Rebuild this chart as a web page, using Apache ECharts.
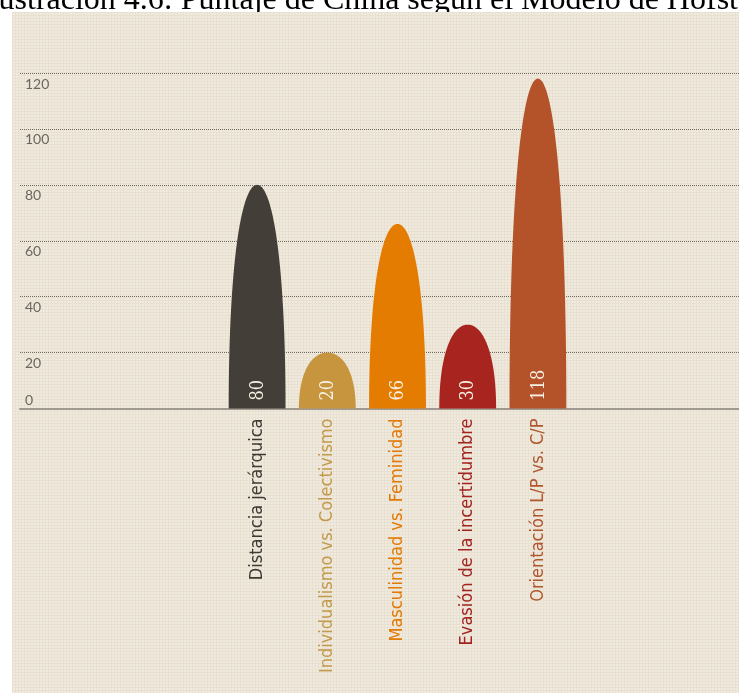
<!DOCTYPE html>
<html>
<head>
<meta charset="utf-8">
<script src="https://cdn.jsdelivr.net/npm/echarts@6/dist/echarts.min.js"></script>
<style>
  html, body { margin: 0; padding: 0; background: #fff; }
  #chart { width: 739px; height: 693px; }
</style>
</head>
<body>
<div id="chart"></div>
<script>
// Hofstede dimensions for China
const categories = [
  'Distancia jerárquica',
  'Individualismo vs. Colectivismo',
  'Masculinidad vs. Feminidad',
  'Evasión de la incertidumbre',
  'Orientación L/P vs. C/P'
];
const scores = [80, 20, 66, 30, 118];
const yTicks = { min: 0, max: 120, step: 20 };
const titleText = 'Ilustración 4.6: Puntaje de China según el Modelo de Hofstede';

// styling per dimension
const barColors = ['#433f38', '#c8953f', '#e57c02', '#a7241f', '#b4532a'];
const labelColors = ['#3d3a34', '#c39a4c', '#e27a06', '#a2241f', '#b0572f'];

// fine graph-paper texture for the panel
const tile = document.createElement('canvas');
tile.width = 3; tile.height = 3;
const g = tile.getContext('2d');
g.fillStyle = '#f1eadf';
g.fillRect(0, 0, 3, 3);
g.fillStyle = '#e8e0d1';
g.fillRect(0, 0, 3, 1);
g.fillRect(0, 0, 1, 3);

// rounded "bullet" bar: two mirrored cubic curves from the base corners to the apex
function renderBullet(params, api) {
  const idx = api.value(0);
  const val = api.value(1);
  const top = api.coord([idx, val]);
  const base = api.coord([idx, 0]);
  const xc = top[0], yt = top[1], yb = base[1];
  const hw = api.size([1, 0])[0] * 0.405;
  const H = yb - yt;
  const a = 0.65, b = 0.55, N = 48;
  const left = [];
  for (let k = 0; k <= N; k++) {
    const t = k / N, u = 1 - t;
    const X = (1 - b) * 3 * u * t * t + t * t * t;
    const Y = a * 3 * u * u * t + 3 * u * t * t + t * t * t;
    left.push([xc - hw + X * hw, yb - Y * H]);
  }
  const right = left.slice(0, -1).reverse().map(p => [2 * xc - p[0], p[1]]);
  return {
    type: 'group',
    children: [
      { type: 'polygon', shape: { points: left.concat(right) }, style: { fill: barColors[idx] } },
      {
        type: 'text', x: xc + 1, y: yb - 8, rotation: Math.PI / 2,
        style: {
          text: String(val), fill: '#f7f1e5',
          font: '18px "DejaVu Serif Condensed", "DejaVu Serif", serif',
          align: 'left', verticalAlign: 'middle'
        }
      }
    ]
  };
}

const chart = echarts.init(document.getElementById('chart'), null, { renderer: 'canvas' });

const valueAxisBase = {
  type: 'value', min: yTicks.min, max: yTicks.max, interval: yTicks.step,
  position: 'left', z: 2,
  axisLine: { show: false }, axisTick: { show: false }
};

chart.setOption({
  backgroundColor: '#ffffff',
  animation: false,
  title: {
    text: titleText, left: -26, top: -20, z: 0,
    textStyle: { fontFamily: '"Liberation Serif", "Times New Roman", serif', fontSize: 32, fontWeight: 'normal', color: '#000' }
  },
  graphic: [{
    type: 'rect', left: 12, top: 12, z: 1,
    shape: { width: 727, height: 681 },
    style: { fill: { image: tile, repeat: 'repeat' } }
  }],
  grid: [
    { left: 20, right: 0, top: 73, bottom: 284.5 },
    { left: 222, right: 166, top: 73, bottom: 284.5 }
  ],
  xAxis: [
    {
      gridIndex: 0, type: 'value', min: 0, max: 1, z: 2,
      axisLine: { show: true, onZero: false, lineStyle: { color: '#9f998f', width: 2 } },
      axisTick: { show: false }, axisLabel: { show: false }, splitLine: { show: false }
    },
    {
      gridIndex: 1, type: 'category', data: categories, z: 2,
      axisLine: { show: false }, axisTick: { show: false },
      axisLabel: {
        interval: 0, rotate: 90, margin: 10,
        fontFamily: '"Liberation Sans Narrow", "DejaVu Sans Condensed", sans-serif',
        fontSize: 18,
        color: (value, index) => labelColors[index]
      }
    }
  ],
  yAxis: [
    Object.assign({}, valueAxisBase, {
      gridIndex: 0,
      splitLine: { show: true, lineStyle: { type: 'dotted', color: '#6e685f', width: 1 } },
      axisLabel: {
        inside: true, margin: 5, verticalAlign: 'top', padding: [4, 0, 0, 0],
        color: '#6b665f', fontFamily: 'Lato, "Open Sans", sans-serif', fontSize: 14,
        formatter: v => (v === 0 ? '' : String(v))
      }
    }),
    Object.assign({}, valueAxisBase, {
      gridIndex: 0,
      splitLine: { show: false },
      axisLabel: {
        inside: true, margin: 5, verticalAlign: 'bottom', padding: [0, 0, 1, 0],
        color: '#6b665f', fontFamily: 'Lato, "Open Sans", sans-serif', fontSize: 14,
        formatter: v => (v === 0 ? '0' : '')
      }
    }),
    Object.assign({}, valueAxisBase, {
      gridIndex: 1, show: false, splitLine: { show: false }
    })
  ],
  series: [{
    type: 'custom',
    xAxisIndex: 1, yAxisIndex: 2,
    renderItem: renderBullet,
    encode: { x: 0, y: 1 },
    data: scores.map((v, i) => [i, v]),
    z: 3
  }]
});
</script>
</body>
</html>
